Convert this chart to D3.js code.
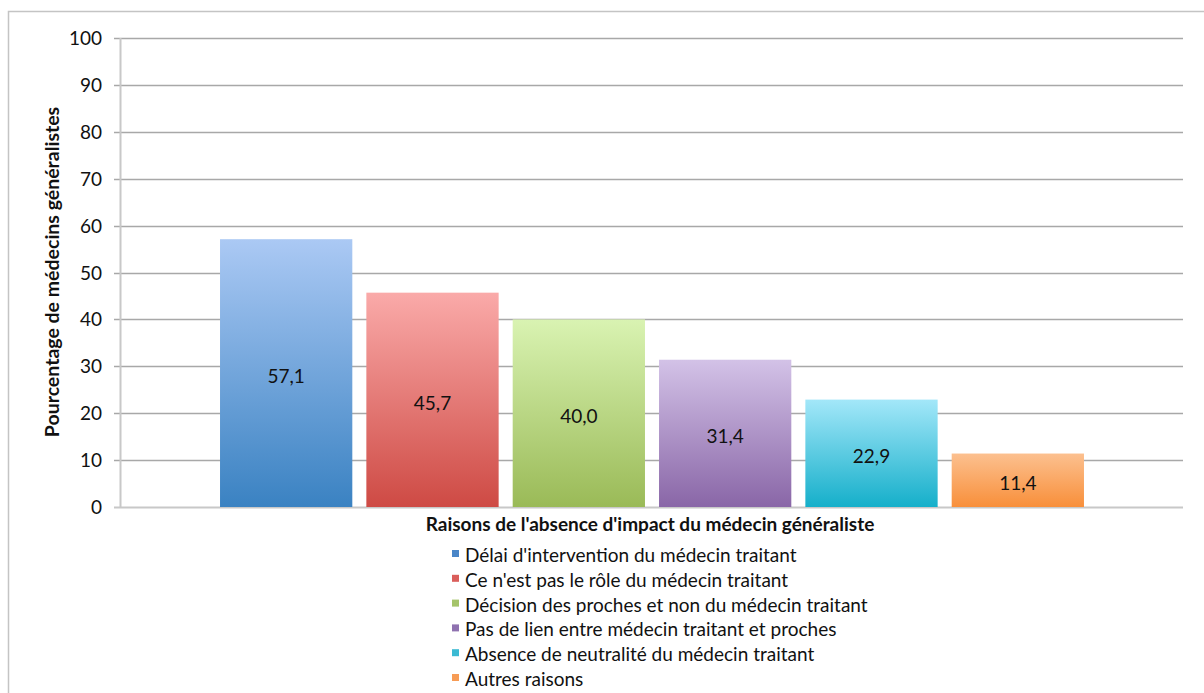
<!DOCTYPE html>
<html>
<head>
<meta charset="utf-8">
<script src="https://cdn.jsdelivr.net/npm/d3@7"></script>
<style>
  body { margin: 0; background: #fff; }
  svg text { font-family: Lato, "Open Sans", sans-serif; fill: #111; }
</style>
</head>
<body>
<svg id="chart" width="1204" height="693"></svg>
<script>
const reasons = [
  'Délai d\'intervention du médecin traitant',
  'Ce n\'est pas le rôle du médecin traitant',
  'Décision des proches et non du médecin traitant',
  'Pas de lien entre médecin traitant et proches',
  'Absence de neutralité du médecin traitant',
  'Autres raisons',
];
const percents = [57.1, 45.7, 40.0, 31.4, 22.9, 11.4];
const yTicks = [0, 10, 20, 30, 40, 50, 60, 70, 80, 90, 100];
const colorsTop = ['#abc9f4', '#faaaa9', '#d9f3b2', '#d3c2e7', '#a3e7f9', '#fcc08f'];
const colorsBottom = ['#3a82c2', '#ce4a44', '#9aba57', '#8966a7', '#15afca', '#f88f3a'];
const colorsKey = ['#4a86c8', '#da5e5b', '#a5c46a', '#8f72b0', '#3bbad3', '#f79c55'];

const svg = d3.select('#chart');

const dim = { left: 120, right: 1183, top: 38, bottom: 507 };

// frame
svg.append('path')
  .attr('d', 'M8.5,693 L8.5,11.5 L1204,11.5')
  .style('fill', 'none')
  .style('stroke', '#c4c4c4')
  .style('stroke-width', 1.5);

const y = d3.scaleLinear().domain([0, 100]).range([dim.bottom, dim.top]);
const x = d3.scaleBand()
  .domain(reasons)
  .range([213, 1091])
  .paddingInner(0.096)
  .paddingOuter(0.048);

const defs = svg.append('defs');
reasons.forEach((r, i) => {
  const g = defs.append('linearGradient')
    .attr('id', `grad-${i}`)
    .attr('x1', 0).attr('y1', 0).attr('x2', 0).attr('y2', 1);
  g.append('stop').attr('offset', '0%').attr('stop-color', colorsTop[i]);
  g.append('stop').attr('offset', '100%').attr('stop-color', colorsBottom[i]);
});

// grid + ticks
const grid = svg.append('g').attr('class', 'grid');
grid.selectAll('line')
  .data(yTicks)
  .enter()
  .append('line')
  .attr('x1', dim.left - 6)
  .attr('x2', dim.right)
  .attr('y1', (d) => Math.round(y(d)) + 0.5)
  .attr('y2', (d) => Math.round(y(d)) + 0.5)
  .style('stroke', (d) => (d === 0 ? '#c8c8c8' : '#a8a8a8'))
  .style('stroke-width', (d) => (d === 0 ? 2 : 1.3));

svg.append('line')
  .attr('x1', dim.left + 0.5).attr('x2', dim.left + 0.5)
  .attr('y1', dim.top).attr('y2', dim.bottom + 1)
  .style('stroke', '#c8c8c8')
  .style('stroke-width', 2);

svg.append('g')
  .selectAll('text')
  .data(yTicks)
  .enter()
  .append('text')
  .attr('x', 102)
  .attr('y', (d) => y(d) + 7)
  .style('text-anchor', 'end')
  .style('font-size', '19px')
  .text((d) => d);

// bars
const bars = svg.append('g')
  .selectAll('g')
  .data(reasons)
  .enter()
  .append('g');

bars.append('rect')
  .attr('x', (d) => x(d))
  .attr('y', (d, i) => y(percents[i]))
  .attr('width', x.bandwidth())
  .attr('height', (d, i) => y(0) - y(percents[i]))
  .style('fill', (d, i) => `url(#grad-${i})`);

bars.append('text')
  .attr('x', (d) => x(d) + x.bandwidth() / 2)
  .attr('y', (d, i) => (y(percents[i]) + y(0)) / 2 + 10)
  .style('text-anchor', 'middle')
  .style('font-size', '19px')
  .text((d, i) => percents[i].toFixed(1).replace('.', ','));

// axis titles
svg.append('text')
  .attr('transform', 'translate(59, 272) rotate(-90)')
  .style('text-anchor', 'middle')
  .style('font-size', '19.5px')
  .style('font-weight', 700)
  .text('Pourcentage de médecins généralistes');

svg.append('text')
  .attr('x', 650)
  .attr('y', 531)
  .style('text-anchor', 'middle')
  .style('font-size', '19px')
  .style('font-weight', 700)
  .text('Raisons de l\'absence d\'impact du médecin généraliste');

// legend
const legend = svg.append('g')
  .style('transform', 'translate(452px, 556px)');

const items = legend.selectAll('g')
  .data(reasons)
  .enter()
  .append('g')
  .style('transform', (d, i) => `translate(0, ${i * 24.8}px)`);

items.append('rect')
  .attr('x', 0)
  .attr('y', -6)
  .attr('width', 7)
  .attr('height', 7)
  .style('fill', (d, i) => colorsKey[i]);

items.append('text')
  .attr('x', 13)
  .attr('y', 6)
  .style('font-size', '19px')
  .text((d) => d);
</script>
</body>
</html>
